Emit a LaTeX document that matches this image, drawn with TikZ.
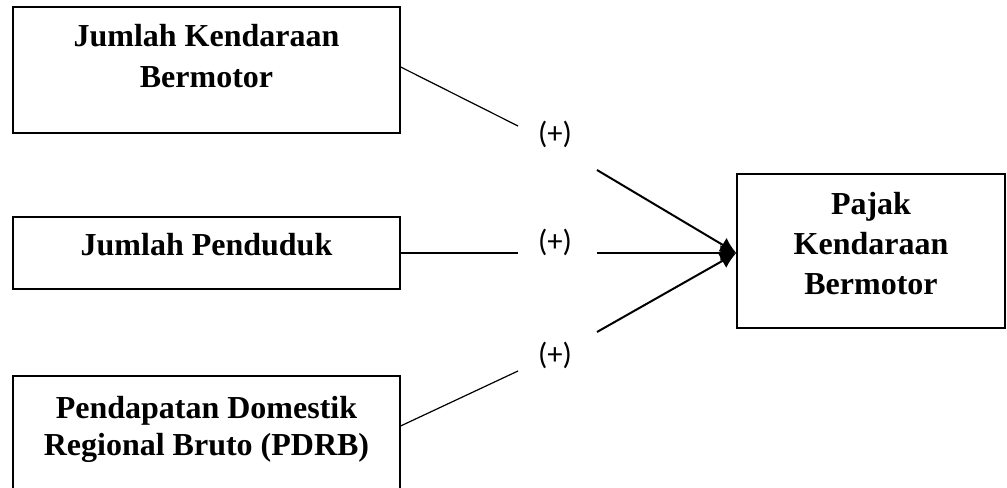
\documentclass[tikz,border=0pt]{standalone}
\usepackage{fontspec}
\setmainfont{Liberation Serif}
\newfontfamily\signfont{Carlito}
\usetikzlibrary{arrows.meta,calc}
\tikzset{
box/.style = {draw, fill=white, rectangle, line width=1pt, minimum width=290.25pt},
caption/.style = {align=center, inner sep=0pt, font=\bfseries\fontsize{24}{30.5}\selectfont},
sign/.style = {inner sep=0pt, font=\signfont\fontsize{23}{27}\selectfont},
gap/.style = {coordinate},
link/.style = {line width=0.9pt},
feed/.style = {->, line width=1.5pt}
}

\begin{document}
\begin{tikzpicture}[x=0.75pt, y=-0.75pt, >={Latex[length=12pt,width=12pt]}]
	\useasboundingbox (0,0) rectangle (1007,488);
	\node[box, minimum height=94.5pt] (jkb) at (206.5,70) {};
	\node[box, minimum height=54pt] (jp) at (206.5,253) {};
	\node[box, minimum height=90.75pt] (pdrb) at (206.5,436.5) {};
	\node[box, minimum width=201pt, minimum height=115.5pt] (pkb) at (871,251) {};
	\node[caption] (jkbtext) at (206.5,56) {Jumlah Kendaraan\\Bermotor};
	\node[caption] (jptext) at (206.5,245) {Jumlah Penduduk};
	\node[caption, font=\bfseries\fontsize{24}{27.75}\selectfont] (pdrbtext) at (206.5,429.5) {Pendapatan Domestik\\Regional Bruto (PDRB)};
	\node[caption, font=\bfseries\fontsize{24}{30}\selectfont] (pkbtext) at (871,244) {Pajak\\Kendaraan\\Bermotor};
	\node[sign] (plus1) at (555,134) {(+)};
	\node[sign] (plus2) at (555,242.5) {(+)};
	\node[sign] (plus3) at (555,355) {(+)};
	\node[gap] (g1a) at (518,126) {};
	\node[gap] (g1b) at (597,170) {};
	\node[gap] (g2a) at (518,253) {};
	\node[gap] (g2b) at (597,253) {};
	\node[gap] (g3a) at (518,371) {};
	\node[gap] (g3b) at (597,332) {};
	\draw[link] ([yshift=2.25pt]jkb.east) -- (g1a);
	\draw[feed] (g1b) -- ([yshift=-1.5pt]pkb.west);
	\draw[link] (jp.east) -- (g2a);
	\draw[feed] (g2b) -- ([yshift=-1.5pt]pkb.west);
	\draw[link] ([yshift=7.9pt]pdrb.east) -- (g3a);
	\draw[feed] (g3b) -- ([yshift=-1.5pt]pkb.west);
\end{tikzpicture}
\end{document}
